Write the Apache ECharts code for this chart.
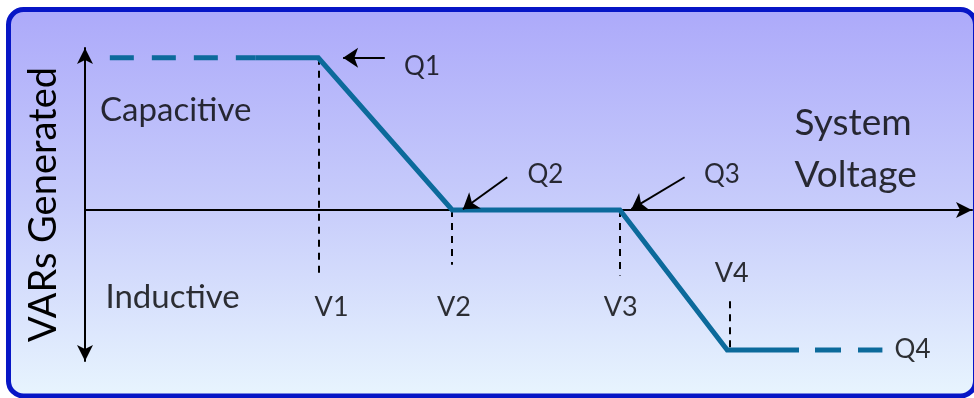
<!DOCTYPE html>
<html>
<head>
<meta charset="utf-8">
<script src="https://cdn.jsdelivr.net/npm/echarts@6/dist/echarts.min.js"></script>
<style>
  html, body { margin: 0; padding: 0; background: #fff; }
  #chart { width: 974px; height: 398px; }
</style>
</head>
<body>
<div id="chart"></div>
<script>
// characteristic breakpoints (x: system voltage, y: VARs, Q1 = 1)
var curveSolid = [[19.2, 1], [26.3, 1], [41.4, 0], [60.3, 0], [72.4, -0.92], [80.5, -0.92]]
var capDashed = [[2.8, 1], [19.2, 1]]
var indDashed = [[82.3, -0.92], [89.9, -0.92]]

// dashed drop lines under V1..V4
var guides = [
  [[26.3, 1], [26.3, -0.43]],
  [[41.4, 0], [41.4, -0.36]],
  [[60.3, 0], [60.3, -0.43]],
  [[72.7, -0.6], [72.7, -0.92]]
]

// small pointer arrows for Q1..Q3
var pointers = [
  [[33.8, 1.0], [29.1, 1.0]],
  [[47.6, 0.215], [42.6, 0.005]],
  [[67.6, 0.215], [61.6, 0.005]]
]

var vLabels = [['V1', 27.8, -0.64], ['V2', 41.6, -0.64], ['V3', 60.4, -0.64], ['V4', 72.9, -0.415]]
var qLabels = [['Q1', 38.0, 0.94], ['Q2', 51.9, 0.23], ['Q3', 71.8, 0.23], ['Q4', 93.3, -0.92]]
var regionLabels = [['Capacitive', 1.7, 0.657], ['Inductive', 2.3, -0.575]]
var xTitle = ['System\nVoltage', 80.0, 0.40]

var FONT = 'Lato'
var CURVE = '#0c6a9b'

var chart = echarts.init(document.getElementById('chart'))

function textSeries(list, size, align, lh) {
  return {
    type: 'scatter',
    symbolSize: 0,
    silent: true,
    z: 5,
    data: list.map(function (d) { return { name: d[0], value: [d[1], d[2]] } }),
    label: {
      show: true,
      position: 'inside',
      formatter: '{b}',
      align: align,
      verticalAlign: 'middle',
      color: '#000',
      fontFamily: FONT,
      fontSize: size,
      lineHeight: lh || Math.round(size * 1.5)
    }
  }
}

chart.setOption({
  animation: false,
  graphic: [{
    type: 'rect',
    z: -10,
    silent: true,
    shape: { x: 8.5, y: 9.5, width: 967, height: 386.5, r: 15 },
    style: {
      fill: new echarts.graphic.LinearGradient(0, 0, 0, 1, [
        { offset: 0, color: '#aca9fa' },
        { offset: 0.5, color: '#c7ccfb' },
        { offset: 1, color: '#e8f5fe' }
      ]),
      stroke: '#0716c6',
      lineWidth: 5
    }
  }],
  grid: { left: 85, right: 2, top: 48, bottom: 37 },
  xAxis: {
    type: 'value',
    min: 0,
    max: 100,
    axisLine: {
      show: true,
      onZero: true,
      symbol: ['none', 'arrow'],
      symbolSize: [12, 16],
      lineStyle: { color: '#000', width: 2 }
    },
    axisTick: { show: false },
    axisLabel: { show: false },
    splitLine: { show: false }
  },
  yAxis: {
    type: 'value',
    min: -0.992,
    max: 1.064,
    name: 'VARs Generated',
    nameLocation: 'middle',
    nameRotate: 90,
    nameGap: 22,
    nameTextStyle: { fontFamily: FONT, fontSize: 38, color: '#000' },
    axisLine: {
      show: true,
      symbol: ['arrow', 'arrow'],
      symbolSize: [12, 16],
      lineStyle: { color: '#000', width: 2 }
    },
    axisTick: { show: false },
    axisLabel: { show: false },
    splitLine: { show: false }
  },
  series: [
    {
      type: 'lines',
      coordinateSystem: 'cartesian2d',
      silent: true,
      z: 2,
      data: guides.map(function (g) { return { coords: g } }),
      lineStyle: { color: '#000', width: 2, type: [7, 6], opacity: 1 }
    },
    {
      type: 'lines',
      coordinateSystem: 'cartesian2d',
      silent: true,
      z: 4,
      symbol: ['none', 'arrow'],
      symbolSize: 15,
      data: pointers.map(function (p) { return { coords: p } }),
      lineStyle: { color: '#000', width: 2, opacity: 1 }
    },
    {
      type: 'line',
      data: curveSolid,
      showSymbol: false,
      silent: true,
      z: 3,
      lineStyle: { color: CURVE, width: 5, join: 'miter' }
    },
    {
      type: 'line',
      data: capDashed,
      showSymbol: false,
      silent: true,
      z: 3,
      lineStyle: { color: CURVE, width: 5, type: [24, 18], cap: 'butt' }
    },
    {
      type: 'line',
      data: indDashed,
      showSymbol: false,
      silent: true,
      z: 3,
      lineStyle: { color: CURVE, width: 5, type: [26, 17], cap: 'butt' }
    },
    textSeries(vLabels, 27, 'center'),
    textSeries(qLabels, 26, 'center'),
    textSeries(regionLabels, 33, 'left'),
    textSeries([xTitle], 37, 'left', 52)
  ]
})
</script>
</body>
</html>
